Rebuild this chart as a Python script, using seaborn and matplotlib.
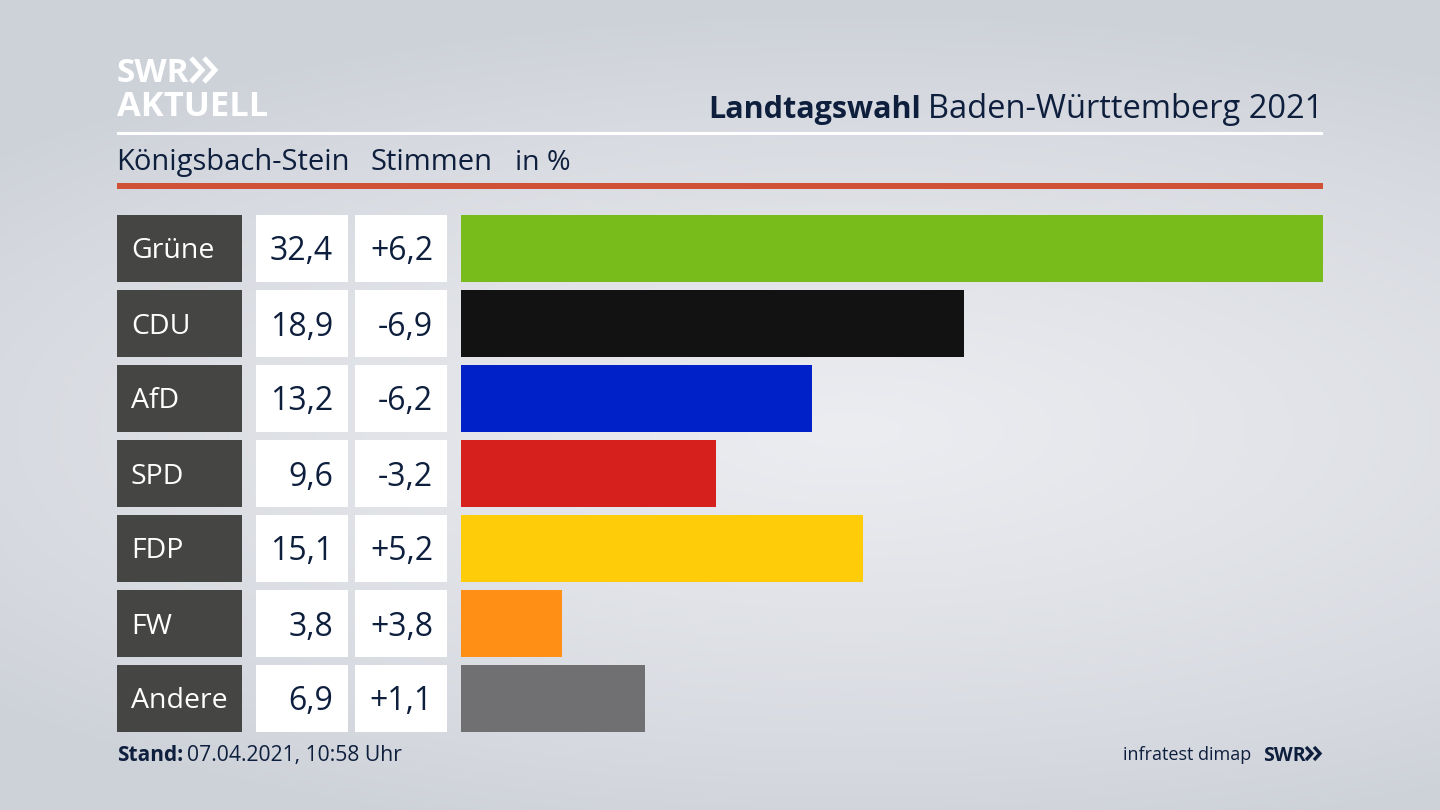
import numpy as np
import pandas as pd
import seaborn as sns
import matplotlib.pyplot as plt
from matplotlib.patches import Rectangle

parteien = ['Grüne', 'CDU', 'AfD', 'SPD', 'FDP', 'FW', 'Andere']
stimmen = [32.4, 18.9, 13.2, 9.6, 15.1, 3.8, 6.9]
stimmen_txt = ['32,4', '18,9', '13,2', '9,6', '15,1', '3,8', '6,9']
diff_txt = ['+6,2', '-6,9', '-6,2', '-3,2', '+5,2', '+3,8', '+1,1']
farben = ['#78bc1b', '#121212', '#0021c8', '#d5201d', '#ffcc0a', '#ff9015', '#707072']

sns.set_theme(style='white')
plt.rcParams['font.family'] = ['Open Sans', 'DejaVu Sans']

NAVY = '#0e1f3d'
W, H = 1440, 810

fig = plt.figure(figsize=(14.4, 8.1), dpi=100)

# Hintergrund und Rahmen in Pixelkoordinaten
bg = fig.add_axes([0, 0, 1, 1])
bg.axis('off')

xx, yy = np.meshgrid(np.arange(W), np.arange(H))
dist = np.sqrt(((xx - 850) / 1150) ** 2 + ((yy - 430) / 420) ** 2)
hell = np.clip(1 - dist, 0, 1) ** 0.8
unten = np.array([205, 209, 216])
oben = np.array([236, 237, 241])
verlauf = (unten + (oben - unten) * hell[..., None]) / 255
bg.imshow(verlauf, extent=(0, W, H, 0), aspect='auto', zorder=0)
bg.set_xlim(0, W)
bg.set_ylim(H, 0)


def pfeile(x, y_oben, y_unten, breite, abstand, farbe, lw):
    # die zwei Winkel im SWR-Logo
    for k in range(2):
        x0 = x + k * abstand
        bg.plot([x0, x0 + breite, x0], [y_oben, (y_oben + y_unten) / 2, y_unten],
                color=farbe, lw=lw, solid_joinstyle='miter', solid_capstyle='butt')


# Logo
bg.text(117, 82, 'SWR', color='white', fontsize=24, fontweight='bold', ha='left', va='baseline')
pfeile(191, 58, 82, 11, 13, 'white', 3.6)
bg.text(117, 116, 'AKTUELL', color='white', fontsize=24.8, fontweight='bold', ha='left', va='baseline')

# Titel
bg.text(921, 118, 'Landtagswahl', color=NAVY, fontsize=22, fontweight='bold', ha='right', va='baseline')
bg.text(1323, 118, 'Baden-Württemberg 2021', color=NAVY, fontsize=23.5, ha='right', va='baseline')
bg.add_patch(Rectangle((117, 132), 1206, 3, color='white', lw=0))

# Untertitel
bg.text(116, 170, 'Königsbach-Stein', color=NAVY, fontsize=21, ha='left', va='baseline')
bg.text(370, 170, 'Stimmen', color=NAVY, fontsize=21, ha='left', va='baseline')
bg.text(515, 170, 'in %', color=NAVY, fontsize=20.5, ha='left', va='baseline')
bg.add_patch(Rectangle((117, 183), 1206, 6, color='#cf5236', lw=0))

# Tabellenzellen
for i, partei in enumerate(parteien):
    y0 = 215 + 75 * i
    yc = y0 + 33
    bg.add_patch(Rectangle((117, y0), 124.5, 66.5, color='#454543', lw=0))
    bg.add_patch(Rectangle((256, y0), 92, 66.5, color='white', lw=0))
    bg.add_patch(Rectangle((355, y0), 92, 66.5, color='white', lw=0))
    bg.text(131, yc, partei, color='white', fontsize=20.5, ha='left', va='center_baseline')
    bg.text(333, yc, stimmen_txt[i], color=NAVY, fontsize=23, ha='right', va='center_baseline')
    bg.text(433, yc, diff_txt[i], color=NAVY, fontsize=23, ha='right', va='center_baseline')

# Fusszeile
bg.text(117, 761, 'Stand:', color=NAVY, fontsize=15, fontweight='bold', ha='left', va='baseline')
bg.text(187, 761, '07.04.2021, 10:58 Uhr', color=NAVY, fontsize=15.2, ha='left', va='baseline')
bg.text(1251, 760, 'infratest dimap', color=NAVY, fontsize=13, ha='right', va='baseline')
bg.text(1263, 761, 'SWR', color=NAVY, fontsize=14, fontweight='bold', ha='left', va='baseline')
pfeile(1306, 747, 760, 6, 8, NAVY, 2.4)

# Balken: eine Zeile = 75 px, Achse von y=211 bis y=736
ax = fig.add_axes([461 / W, 1 - 736 / H, (1323 - 461) / W, 525 / H])
daten = pd.DataFrame({'partei': parteien, 'stimmen': stimmen})
sns.barplot(data=daten, x='stimmen', y='partei', hue='partei', palette=farben,
            legend=False, width=66.5 / 75, saturation=1, linewidth=0, ax=ax)
ax.set_xlim(0, max(stimmen))
ax.set_ylim(6.5, -0.5)
ax.axis('off')

fig.savefig('out.png', dpi=100)
